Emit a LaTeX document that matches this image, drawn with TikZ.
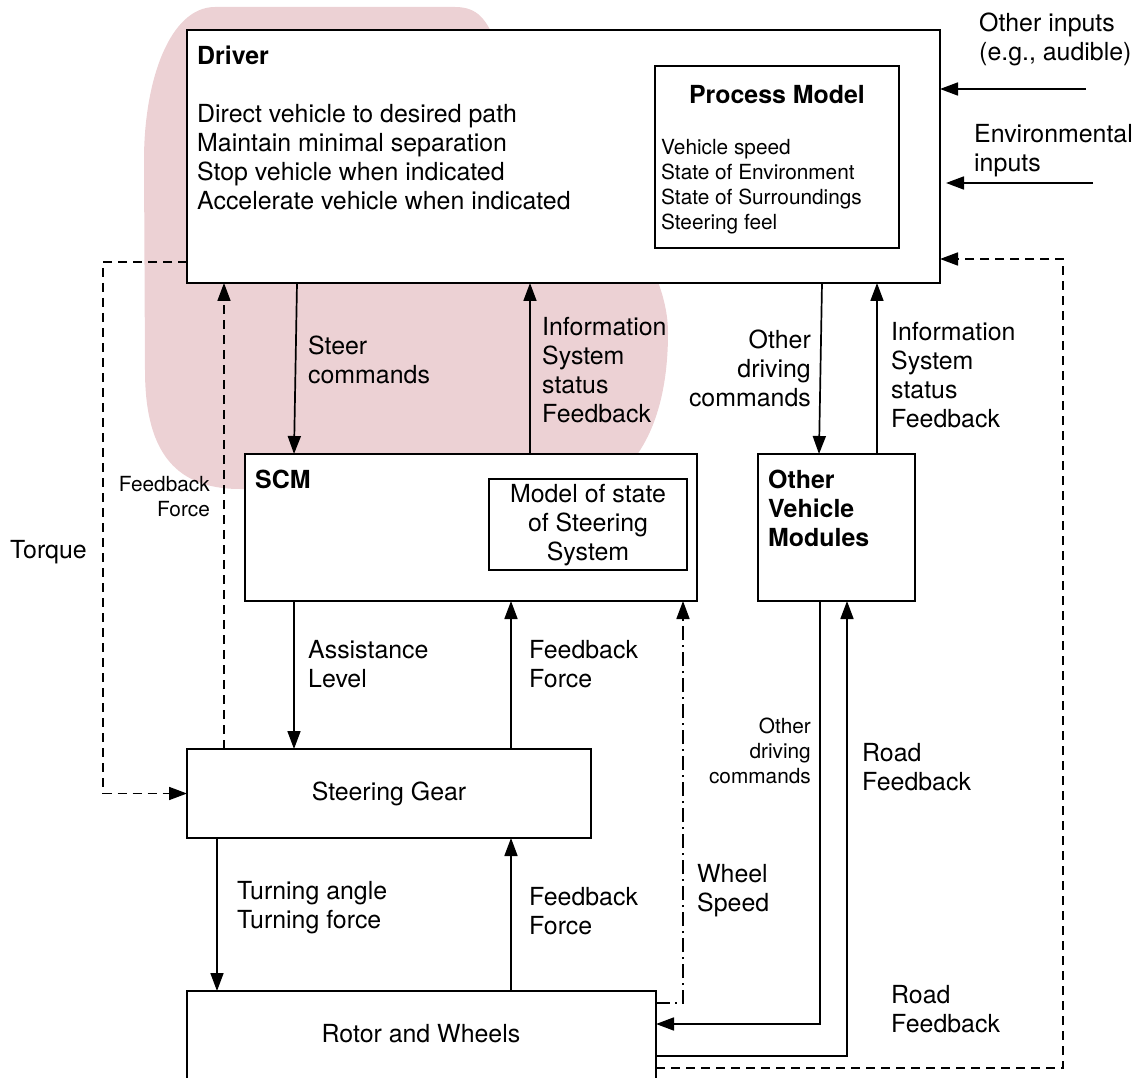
\documentclass[tikz,border=0pt]{standalone}
\usepackage{fontspec}
\setmainfont{TeX Gyre Heros}
\usetikzlibrary{arrows.meta,calc}
\definecolor{blush}{RGB}{236,209,212}
\newcommand\bigfont{\fontsize{24.9}{29}\selectfont}
\newcommand\smallfont{\fontsize{20.8}{25}\selectfont}
\begin{document}
\begin{tikzpicture}[x=1pt,y=-1pt,
  box/.style={draw, line width=1.7pt, fill=white, inner sep=0pt, outer sep=0pt, anchor=north west},
  lbl/.style={inner sep=0pt, font=\bigfont, align=left, anchor=north west},
  slbl/.style={inner sep=0pt, font=\smallfont, align=left, anchor=north west},
  conn/.style={line width=1.7pt, -{Triangle[length=18pt,width=13pt]}},
  dash line/.style={dash pattern=on 9pt off 6pt},
  dashdot line/.style={dash pattern=on 14pt off 5pt on 2pt off 5pt},
]
\clip (0,0) rectangle (1144,1078);

% shaded region around the driver / controller loop
\fill[blush] (215,7) -- (455,7) .. controls (478,7) and (486,20) .. (495,40)
  .. controls (560,150) and (668,240) .. (668,333)
  .. controls (668,400) and (650,460) .. (600,489) -- (240,489)
  .. controls (170,489) and (145,445) .. (145,370) -- (144,160)
  .. controls (144,80) and (170,7) .. (215,7) -- cycle;

% blocks
\node[box, minimum width=753pt, minimum height=253pt] (driver) at (187,30) {};
\node[box, minimum width=244pt, minimum height=182pt] (pmodel) at (655,66) {};
\node[box, minimum width=452pt, minimum height=147pt] (scm) at (245,454) {};
\node[box, minimum width=198pt, minimum height=91pt] (sysmodel) at (489,479) {};
\node[box, minimum width=157pt, minimum height=147pt] (ovm) at (758,454) {};
\node[box, minimum width=404pt, minimum height=89pt, font=\bigfont] (sg) at (187,749) {Steering Gear};
\node[box, minimum width=469pt, minimum height=130pt] (rotor) at (187,991) {};

% block texts
\node[lbl] (drivertitle) at (197,45.5) {\textbf{Driver}};
\node[lbl] (drivergoals) at (197,104) {Direct vehicle to desired path\\Maintain minimal separation\\Stop vehicle when indicated\\Accelerate vehicle when indicated};
\node[lbl, anchor=north] (pmtitle) at (777,85.5) {\textbf{Process Model}};
\node[slbl] (pmitems) at (661,139.5) {Vehicle speed\\State of Environment\\State of Surroundings\\Steering feel};
\node[lbl] (scmtitle) at (255,469.4) {\textbf{SCM}};
\node[lbl, anchor=north, align=center] (sysmodeltext) at (588,484.4) {Model of state\\of Steering\\System};
\node[lbl] (ovmtitle) at (768,469.4) {\textbf{Other}\\\textbf{Vehicle}\\\textbf{Modules}};
\node[font=\bigfont, inner sep=0pt] (rotortext) at (421,1034) {Rotor and Wheels};

% external inputs to the driver
\coordinate (oi) at (1086,89);
\coordinate (ei) at (1093,183);
\draw[conn] (oi) -- (oi -| driver.east);
\draw[conn] (ei) -- ($(ei -| driver.east)+(6,0)$);
\node[lbl] (oitext) at (979,12.4) {Other inputs\\(e.g., audible)};
\node[lbl] (eitext) at (974,124.4) {Environmental\\inputs};

% driver <-> SCM
\draw[conn] ([xshift=110pt]driver.south west) -- ([xshift=49pt]scm.north west);
\draw[conn] ([xshift=285pt]scm.north west) -- ([xshift=343pt]driver.south west);
\node[lbl] (steertext) at (308,335.4) {Steer\\commands};
\node[lbl] (infoltext) at (542,317.4) {Information\\System\\status\\Feedback};

% driver <-> other vehicle modules
\draw[conn] ([xshift=635pt]driver.south west) -- ([xshift=61pt]ovm.north west);
\draw[conn] ([xshift=119pt]ovm.north west) -- ([xshift=690pt]driver.south west);
\node[lbl, anchor=north east, align=right] (odctext) at (811,329.4) {Other\\driving\\commands};
\node[lbl] (inforttext) at (891,322.4) {Information\\System\\status\\Feedback};

% SCM <-> steering gear
\draw[conn] ([xshift=49pt]scm.south west) -- ([xshift=107pt]sg.north west);
\draw[conn] ([xshift=324pt]sg.north west) -- ([xshift=266pt]scm.south west);
\node[lbl] (assisttext) at (308,640.4) {Assistance\\Level};
\node[lbl] (fbmidtext) at (529,640.4) {Feedback\\Force};

% steering gear <-> rotor and wheels
\draw[conn] ([xshift=30pt]sg.south west) -- ([xshift=30pt]rotor.north west);
\draw[conn] ([xshift=324pt]rotor.north west) -- ([xshift=324pt]sg.south west);
\node[lbl] (turntext) at (237,881.4) {Turning angle\\Turning force};
\node[lbl] (fblowtext) at (529,887.4) {Feedback\\Force};

% mechanical paths (dashed)
\draw[conn, dash line] ([xshift=37pt]sg.north west) -- ([xshift=37pt]driver.south west);
\draw[conn, dash line] ([yshift=-232pt]driver.north west) -- (103,262) |- (sg.west);
\draw[conn, dash line] ([yshift=-77pt]rotor.north east) -- (1063,1068) |- ([yshift=-229pt]driver.north east);
\node[slbl, anchor=north east, align=right] (fbdtext) at (210,475.7) {Feedback\\Force};
\node[lbl] (torquetext) at (10,540.4) {Torque};
\node[lbl] (roadrtext) at (891,985.4) {Road\\Feedback};

% wheel speed sensing (dash-dot)
\draw[conn, dashdot line] ([yshift=-12pt]rotor.north east) -| ([xshift=438pt]scm.south west);
\node[lbl] (wheeltext) at (697,864.4) {Wheel\\Speed};

% other vehicle modules <-> rotor and wheels
\draw[conn] ([xshift=62pt]ovm.south west) |- ([yshift=-33pt]rotor.north east);
\draw[conn] ([yshift=-65pt]rotor.north east) -| ([xshift=89pt]ovm.south west);
\node[slbl, anchor=north east, align=right] (odcbtext) at (811,717.7) {Other\\driving\\commands};
\node[lbl] (roadmtext) at (862,743.4) {Road\\Feedback};
\end{tikzpicture}
\end{document}
